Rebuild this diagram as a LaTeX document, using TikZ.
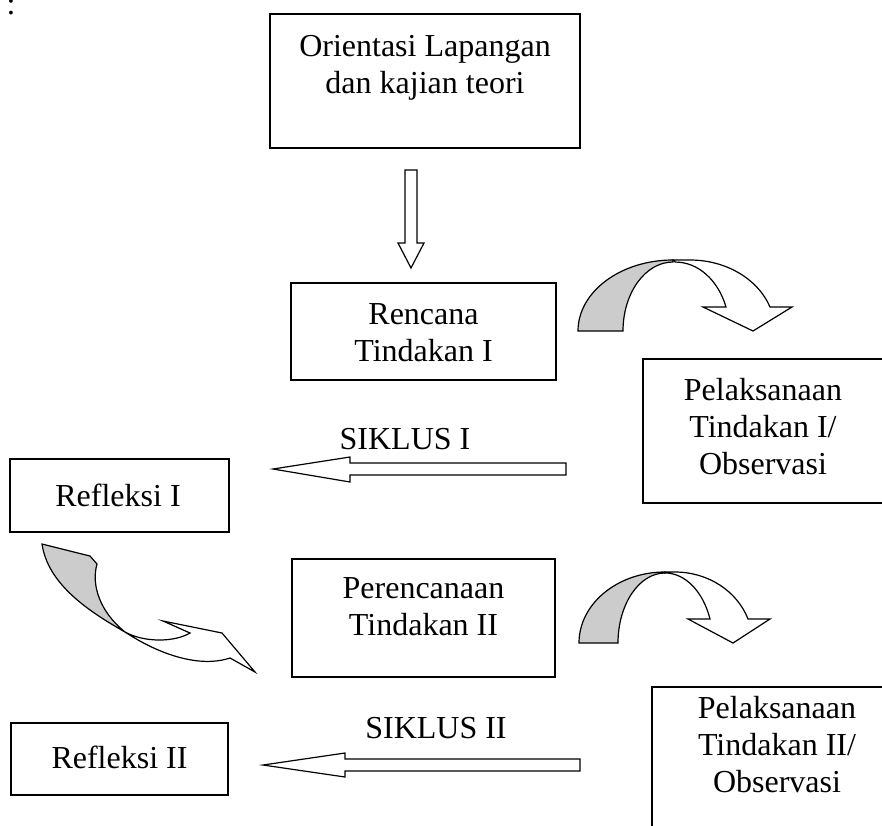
\documentclass[tikz,border=0pt]{standalone}
\usepackage{fontspec}
\setmainfont{Liberation Serif}
\begin{document}
\begin{tikzpicture}[x=1pt,y=-1pt,
  frame/.style={draw,line width=1.5pt,inner sep=0pt},
  lbl/.style={align=center,font=\fontsize{32}{37}\selectfont,inner sep=0pt},
  blk/.style={draw,line width=1.2pt,fill=white,line join=miter},
  back/.style={draw,line width=1.2pt,fill=black!20,line join=miter}]
\useasboundingbox (0,0) rectangle (882,825);

% colon at top-left
\node[lbl,anchor=base] (colon) at (11,14) {:};

% boxes
\node[frame,minimum width=310pt,minimum height=134pt] (orient) at (425,81) {};
\node[lbl] (orientT) at (425,68) {Orientasi Lapangan\\dan kajian teori};

\node[frame,minimum width=265pt,minimum height=97pt] (renc) at (423.5,331.5) {};
\node[lbl] (rencT) at (423.5,333) {Rencana\\Tindakan I};

\draw[line width=1.5pt] (900,359) -- (643,359) -- (643,503) -- (900,503);
\node[lbl] (pel1T) at (763,427) {Pelaksanaan\\Tindakan I/\\Observasi};

\node[frame,minimum width=219pt,minimum height=73pt] (ref1) at (119.5,495.5) {};
\node[lbl] (ref1T) at (118,495) {Refleksi I};

\node[lbl] (sik1) at (405,439) {SIKLUS I};

\node[frame,minimum width=263pt,minimum height=118pt] (peren) at (423.5,618) {};
\node[lbl] (perenT) at (423.5,607) {Perencanaan\\Tindakan II};

\draw[line width=1.5pt] (900,687) -- (652,687) -- (652,850);
\node[lbl] (pel2T) at (777,745) {Pelaksanaan\\Tindakan II/\\Observasi};

\node[frame,minimum width=217pt,minimum height=72pt] (ref2) at (119.5,759) {};
\node[lbl] (ref2T) at (119.5,757) {Refleksi II};

\node[lbl] (sik2) at (436,728) {SIKLUS II};

% straight block arrows
\draw[blk] (405,170) -- (417,170) -- (417,243) -- (424,243) -- (411,268) -- (398,243) -- (405,243) -- cycle;
\draw[blk] (566,463) -- (350,463) -- (350,457) -- (273,469) -- (350,482) -- (350,475) -- (566,475) -- cycle;
\draw[blk] (580,759) -- (345,759) -- (345,753) -- (263,765) -- (345,777) -- (345,771) -- (580,771) -- cycle;

% curved arrow 1
\draw[back] (578,331) arc[start angle=180,end angle=90,x radius=95pt,y radius=71pt]
  -- (673,262) arc[start angle=90,end angle=180,x radius=50pt,y radius=69pt] -- cycle;
\draw[blk] (673,260) -- (690,260) arc[start angle=90,end angle=19.8,x radius=85pt,y radius=71pt]
  -- (792,307) -- (753,331) -- (703,307) -- (726,307)
  arc[start angle=20.4,end angle=90,x radius=54pt,y radius=69pt] -- cycle;

% curved arrow 2
\draw[back] (579,643) arc[start angle=180,end angle=90,x radius=86pt,y radius=71pt]
  -- (665,573) arc[start angle=90,end angle=180,x radius=47pt,y radius=70pt] -- cycle;
\draw[blk] (665,572) -- (675,572) arc[start angle=90,end angle=19.8,x radius=77.6pt,y radius=71pt]
  -- (770,619) -- (733,643) -- (688,619) -- (710,619)
  arc[start angle=20,end angle=90,x radius=48pt,y radius=70pt] -- cycle;

% swoosh arrow
\draw[back] (42,544) -- (90,556) -- (97,564)
  .. controls (91,585) and (100,612) .. (125,632)
  .. controls (90,612) and (48,585) .. (42,544) -- cycle;
\draw[blk] (125,632) .. controls (160,655) and (200,668) .. (230,658)
  -- (255,672) -- (222,633) -- (163,621) -- (190,633)
  .. controls (175,642) and (145,643) .. (125,632) -- cycle;
\end{tikzpicture}
\end{document}
